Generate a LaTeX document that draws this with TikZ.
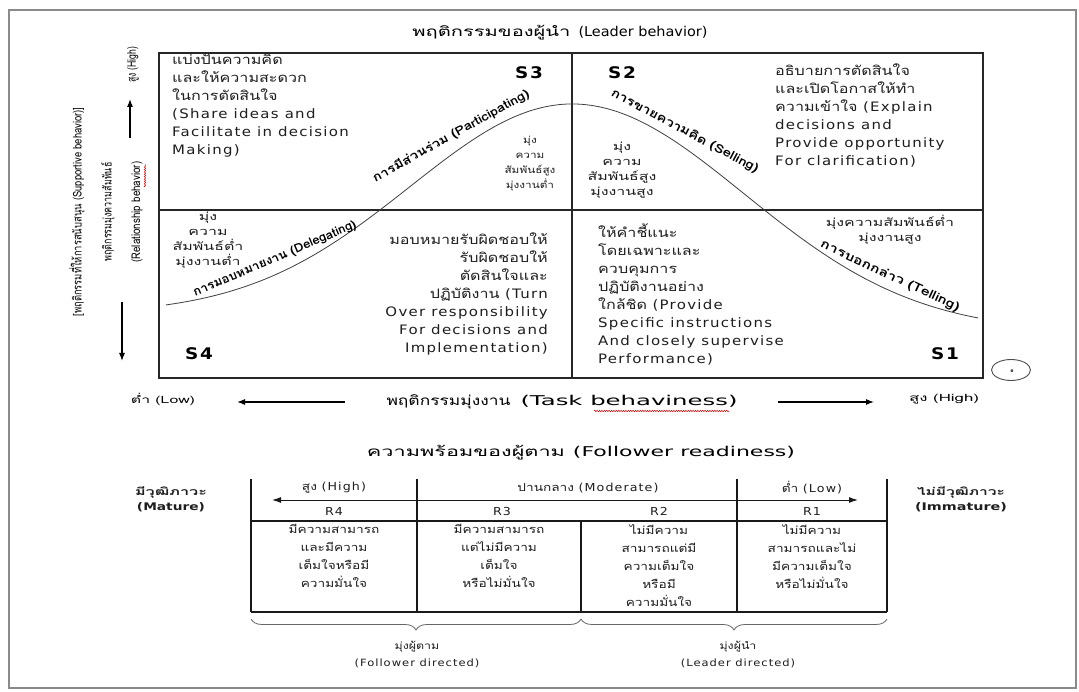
\documentclass[tikz,border=0pt]{standalone}
\usepackage{fontspec}
\setmainfont[Script=Thai]{Loma}
\newfontfamily\thb[Script=Thai,FakeStretch=1.24]{Loma}
\newfontfamily\thw[Script=Thai,FakeStretch=1.45]{Loma}
\newfontfamily\thn[Script=Thai]{Loma}
\newfontfamily\enb[FakeStretch=1.15,LetterSpace=10]{DejaVu Sans}
\newfontfamily\enn{DejaVu Sans}
\usetikzlibrary{arrows.meta,decorations.pathreplacing,decorations.pathmorphing,shapes.geometric}
\definecolor{ink}{HTML}{1E1E1E}
\definecolor{framegray}{HTML}{8A8A8A}
% Latin run inside Thai text
\newcommand{\E}[1]{{\enb #1}}
% squeeze a label to a given width, keeping its height
\newcommand{\fitw}[2]{\resizebox{#1}{\height}{#2}}
\begin{document}
\begin{tikzpicture}[x=1pt,y=-1pt,
  body/.style={font=\thb\fontsize{13}{18}\selectfont, inner sep=0pt, text=ink},
  focusA/.style={font=\thb\fontsize{9.5}{15}\selectfont, inner sep=0pt, text=ink, align=center},
  focusB/.style={font=\thw\fontsize{11}{15}\selectfont, inner sep=0pt, text=ink, align=center},
  cell/.style={font=\thb\fontsize{11}{18}\selectfont, inner sep=0pt, text=ink, align=center},
  slabel/.style={font=\enb\bfseries\fontsize{16}{16}\selectfont, inner sep=0pt, text=black},
  curvelabel/.style={font=\thn\bfseries\fontsize{12}{12}\selectfont, inner sep=0pt, text=black},
  vlabel/.style={font=\thn\fontsize{12}{12}\selectfont, inner sep=0pt, text=black, rotate=90},
  heading/.style={font=\thn\fontsize{13.5}{14}\selectfont, inner sep=0pt, text=black},
  axlabel/.style={font=\thn\fontsize{10}{10}\selectfont, inner sep=0pt, text=black},
  boxline/.style={draw=black!85, line width=1.1pt},
  tabline/.style={draw=black!90, line width=1.1pt},
  curve/.style={draw=black!75, line width=0.8pt},
  axarrow/.style={draw=black, line width=1.1pt, -{Latex[length=8pt,width=6pt]}},
  brace/.style={draw=black!60, line width=0.8pt, decorate, decoration={brace, mirror, amplitude=11pt}},
  spell/.style={draw=red!85!black, line width=0.5pt, decorate, decoration={snake, amplitude=0.7pt, segment length=2.4pt}}
]
\useasboundingbox (0,0) rectangle (1079,692);
\fill[white] (0,0) rectangle (1079,692);
\draw[draw=framegray, line width=1.5pt] (9,10) rectangle (1076,688);

% ---------- leader behaviour grid ----------
\node[heading] (ltitle) at (560,33) {\fitw{158pt}{พฤติกรรมของผู้นำ}\hspace{8pt}\fitw{129pt}{\enn (Leader behavior)}};
\draw[boxline] (159,53) rectangle (983,378);
\draw[boxline] (572,53) -- (572,378);
\draw[boxline] (159,210) -- (983,210);

% bell curve of the four styles
\draw[curve] plot[domain=166:572,samples=90,variable=\t] ({\t},{314-210*exp(-((\t-572)/162)^2/2)});
\draw[curve] plot[domain=572:978,samples=90,variable=\t] ({\t},{332-228*exp(-((\t-572)/172)^2/2)});

\node[curvelabel, rotate=29] (lpart) at (451,136) {\fitw{177pt}{การมีส่วนร่วม (Participating)}};
\node[curvelabel, rotate=-28] (lsell) at (685,131) {\fitw{165pt}{การขายความคิด (Selling)}};
\node[curvelabel, rotate=23] (ldeleg) at (275,259) {\fitw{176pt}{การมอบหมายงาน (Delegating)}};
\node[curvelabel, rotate=-25] (ltell) at (890,276) {\fitw{152pt}{การบอกกล่าว (Telling)}};

\node[slabel] (s3) at (529,73) {S3};
\node[slabel] (s2) at (622,73) {S2};
\node[slabel] (s4) at (199,354) {S4};
\node[slabel] (s1) at (945,354) {S1};

\node[body, anchor=north west, align=left] (q3text) at (172,54)
  {แบ่งปันความคิด\\และให้ความสะดวก\\ในการตัดสินใจ\\\E{(Share ideas and}\\\E{Facilitate in decision}\\\E{Making)}};
\node[body, anchor=north west, align=left] (q2text) at (775,64)
  {อธิบายการตัดสินใจ\\และเปิดโอกาสให้ทำ\\ความเข้าใจ \E{(Explain}\\\E{decisions and}\\\E{Provide opportunity}\\\E{For clarification)}};
\node[body, anchor=north east, align=right] (q4text) at (548,233)
  {มอบหมายรับผิดชอบให้\\รับผิดชอบให้\\ตัดสินใจและ\\ปฏิบัติงาน \E{(Turn}\\\E{Over responsibility}\\\E{For decisions and}\\\E{Implementation)}};
\node[body, anchor=north west, align=left] (q1text) at (598,224)
  {ให้คำชี้แนะ\\โดยเฉพาะและ\\ควบคุมการ\\ปฏิบัติงานอย่าง\\ใกล้ชิด \E{(Provide}\\\E{Specific instructions}\\\E{And closely supervise}\\\E{Performance)}};

\node[focusA, anchor=north] (q3focus) at (530,136) {มุ่ง\\ความ\\สัมพันธ์สูง\\มุ่งงานต่ำ};
\node[focusB, anchor=north] (q2focus) at (622,142) {มุ่ง\\ความ\\สัมพันธ์สูง\\มุ่งงานสูง};
\node[focusB, anchor=north] (q4focus) at (208,212) {มุ่ง\\ความ\\สัมพันธ์ต่ำ\\มุ่งงานต่ำ};
\node[focusB, anchor=north] (q1focus) at (890,215) {มุ่งความสัมพันธ์ต่ำ\\มุ่งงานสูง};

% ---------- vertical axis ----------
\node[vlabel] (vsupport) at (77,212) {\fitw{209pt}{[พฤติกรรมที่ให้การสนับสนุน (Supportive behavior)]}};
\node[vlabel] (vrelth) at (108,212) {\fitw{99pt}{พฤติกรรมมุ่งความสัมพันธ์}};
\node[vlabel] (vrelen) at (137,212) {\fitw{101pt}{(Relationship behavior)}};
\node[vlabel] (vhigh) at (133,65) {\fitw{36pt}{สูง (High)}};
\coordinate (vupA) at (130,138);
\coordinate (vupB) at (130,99);
\coordinate (vdnA) at (122,302);
\coordinate (vdnB) at (122,361);
\draw[axarrow] (vupA) -- (vupB);
\draw[axarrow] (vdnA) -- (vdnB);
\draw[spell] (145,187) -- (145,164);

% ---------- horizontal axis ----------
\node[axlabel] (hlow) at (163,399) {\fitw{64pt}{ต่ำ (Low)}};
\node[heading] (htitle) at (562,402) {\fitw{124pt}{พฤติกรรมมุ่งงาน}\hspace{10pt}\fitw{217pt}{\enn (Task behaviness)}};
\node[axlabel] (hhigh) at (944,399) {\fitw{70pt}{สูง (High)}};
\coordinate (hlA) at (345,402);
\coordinate (hlB) at (237,402);
\coordinate (hrA) at (778,402);
\coordinate (hrB) at (874,402);
\draw[axarrow] (hlA) -- (hlB);
\draw[axarrow] (hrA) -- (hrB);
\draw[spell] (594,411) -- (729,411);

\node[draw=black!70, line width=0.9pt, ellipse, minimum width=39pt, minimum height=21pt, inner sep=0pt] (pagemark) at (1011,370) {};
\node[font=\thn\fontsize{6}{6}\selectfont, inner sep=0pt] (pagenum) at (1012,371) {๑};

% ---------- follower readiness table ----------
\node[heading] (ftitle) at (581,453) {\fitw{198pt}{ความพร้อมของผู้ตาม}\hspace{8pt}\fitw{222pt}{\enn (Follower readiness)}};
\node[cell, font=\thb\bfseries\fontsize{10.5}{15}\selectfont] (mature) at (171,499) {\fitw{72pt}{มีวุฒิภาวะ}\\\fitw{68pt}{\enn\bfseries (Mature)}};
\node[cell, font=\thb\bfseries\fontsize{10.5}{15}\selectfont] (immature) at (961,499) {\fitw{88pt}{ไม่มีวุฒิภาวะ}\\\fitw{92pt}{\enn\bfseries (Immature)}};

\draw[tabline] (251,479) -- (251,612);
\draw[tabline] (417,479) -- (417,612);
\draw[tabline] (581,521) -- (581,612);
\draw[tabline] (737,479) -- (737,612);
\draw[tabline] (887,479) -- (887,612);
\draw[tabline] (251,521) -- (887,521);
\draw[tabline] (251,612) -- (887,612);
\coordinate (rdA) at (272,500);
\coordinate (rdB) at (858,500);
\draw[draw=black!90, line width=1pt, {Latex[length=9pt,width=6pt]}-{Latex[length=9pt,width=6pt]}] (rdA) -- (rdB);

\node[cell] (hhi) at (334,488) {สูง \E{(High)}};
\node[cell] (hmod) at (588,488) {ปานกลาง \E{(Moderate)}};
\node[cell] (hlo) at (812,488) {ต่ำ \E{(Low)}};
\node[cell] (r4) at (334,511) {\E{R4}};
\node[cell] (r3) at (502,511) {\E{R3}};
\node[cell] (r2) at (659,511) {\E{R2}};
\node[cell] (r1) at (812,511) {\E{R1}};

\node[cell, anchor=north] (c4) at (334,524) {มีความสามารถ\\และมีความ\\เต็มใจหรือมี\\ความมั่นใจ};
\node[cell, anchor=north] (c3) at (499,524) {มีความสามารถ\\แต่ไม่มีความ\\เต็มใจ\\หรือไม่มั่นใจ};
\node[cell, anchor=north] (c2) at (659,524) {ไม่มีความ\\สามารถแต่มี\\ความเต็มใจ\\หรือมี\\ความมั่นใจ};
\node[cell, anchor=north] (c1) at (812,524) {ไม่มีความ\\สามารถและไม่\\มีความเต็มใจ\\หรือไม่มั่นใจ};

\coordinate (bfA) at (251,619);
\coordinate (bfB) at (581,619);
\coordinate (blA) at (581,619);
\coordinate (blB) at (887,619);
\draw[brace] (bfA) -- (bfB);
\draw[brace] (blA) -- (blB);
\node[cell, font=\thb\fontsize{10}{17}\selectfont] (fdir) at (417,654) {มุ่งผู้ตาม\\\E{(Follower directed)}};
\node[cell, font=\thb\fontsize{10}{17}\selectfont] (ldir) at (738,654) {มุ่งผู้นำ\\\E{(Leader directed)}};
\end{tikzpicture}
\end{document}
